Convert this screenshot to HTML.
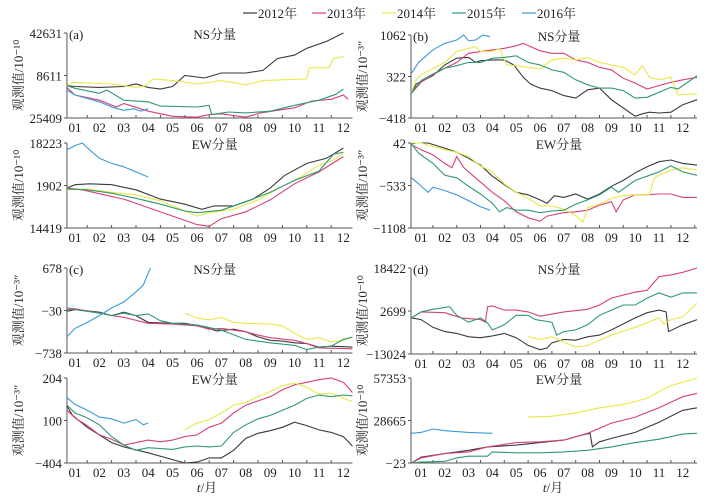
<!DOCTYPE html>
<html><head><meta charset="utf-8"><style>
body{margin:0;background:#fff;}
svg{display:block;font-family:"Liberation Serif","Noto Serif CJK SC",serif;}
</style></head><body>
<svg id="chart" width="712" height="498" viewBox="0 0 712 498" xmlns="http://www.w3.org/2000/svg"></svg>
<script>
// data: [month position t (label k at t=k), percent of axis range]
const years = ["2012年","2013年","2014年","2015年","2016年"];
const colors = ["#3a3a3a","#d6407c","#e8e84c","#2f9a6c","#3b9bd8"];
const months = ["01","02","03","04","05","06","07","08","09","10","11","12"];
const aNSTicks = ["42631","8611","25409"], aEWTicks = ["18223","1902","14419"];
const bNSTicks = ["1062","322","−418"], bEWTicks = ["42","−533","−1108"];
const cNSTicks = ["678","−30","−738"], cEWTicks = ["204","100","−404"];
const dNSTicks = ["18422","2699","−13024"], dEWTicks = ["57353","28665","−23"];

const aNS2012=[[0.65,38],[1,37],[2,36],[3,37],[3.5,40],[4,36],[4.5,34],[5,37],[5.5,50],[6.3,47],[7,53],[8,53],[8.7,56],[9.3,70],[10,74],[10.5,82],[11.3,90],[12,100]];
const aNS2013=[[0.65,36],[1,27],[2,21],[2.7,13],[3,17],[4,8],[5,2],[6,1],[6.5,4],[7,5],[8,1],[8.6,6],[9.3,9],[10,12],[10.7,20],[11.5,22],[12,27],[12.2,22]];
const aNS2014=[[0.65,38],[0.9,42],[2.5,40],[3.5,36],[3.9,38],[4.2,46],[5,44],[6,40],[7,44],[8,39],[8.7,44],[10.5,46],[10.6,59],[11.4,59],[11.6,70],[12,72]];
const aNS2015=[[0.65,38],[1,35],[2,29],[2.3,33],[3,21],[4,19],[4.5,14],[6,13],[6.5,15],[6.6,4],[7.3,7],[8,6],[9,8],[10,15],[11,21],[11.7,28],[12,34]];
const aNS2016=[[0.65,33],[1,27],[2,19],[2.6,12],[3,9],[3.4,11],[3.7,8],[4,11]];

const aEW2012=[[0.65,47],[1,51],[1.6,52],[2.5,51],[3.5,45],[4.5,34],[5.5,28],[6.2,22],[6.7,26],[7.5,26],[8.3,34],[9,47],[9.6,62],[10.5,76],[11.3,82],[12,94]];
const aEW2013=[[0.65,47],[1.3,45],[2.2,39],[3,34],[4,24],[5,14],[6,4],[6.5,2],[7,11],[8,19],[9,33],[10,52],[11,66],[12,84]];
const aEW2014=[[0.65,45],[1.5,46],[2.5,42],[3.5,39],[4.5,32],[5.5,20],[6,14],[6.5,18],[7.5,22],[8.5,33],[9.5,49],[10.3,61],[11,74],[11.5,79],[12,87]];
const aEW2015=[[0.65,46],[1.5,45],[2.5,41],[3.5,35],[4.5,28],[5.5,20],[6,18],[7,21],[8,31],[9,42],[10,56],[11,67],[11.6,87],[12,89]];
const aEW2016=[[0.65,92],[1,97],[1.3,100],[1.6,92],[2,82],[2.5,76],[3,72],[3.5,66],[4,60]];

const bNS2012=[[0.6,30],[0.8,41],[1.5,51],[2,64],[2.5,72],[3,73],[3.3,67],[3.5,69],[4,70],[4.5,70],[4.9,64],[5.3,49],[5.6,41],[6,36],[6.5,33],[7,27],[7.5,24],[8,34],[8.5,36],[9,22],[9.5,12],[10,2],[10.3,5],[10.6,7],[11,6],[11.5,7],[12,16],[12.6,22]];
const bNS2013=[[0.6,30],[1,43],[1.5,52],[2,60],[2.5,67],[3,78],[3.5,80],[4,82],[4.5,84],[5,87],[5.3,90],[5.6,86],[6,81],[6.5,78],[7,78],[7.5,70],[8,67],[8.5,61],[9,58],[9.5,48],[10,42],[10.5,35],[11,39],[11.5,43],[12,46],[12.6,49]];
const bNS2014=[[0.6,31],[0.8,46],[1,52],[2,67],[2.5,80],[3,84],[3.3,86],[3.5,80],[4,80],[4.3,84],[4.6,64],[5,63],[5.5,61],[6,59],[6.5,70],[7,72],[7.5,70],[8,73],[8.5,67],[9,64],[9.5,61],[10,52],[10.3,63],[10.6,49],[11,46],[11.5,49],[11.8,28],[12.6,29]];
const bNS2015=[[0.6,30],[1,45],[1.5,53],[2,60],[2.5,63],[3,67],[3.5,67],[4,72],[4.5,73],[5,75],[5.5,67],[6,64],[6.5,58],[7,55],[7.5,46],[8,40],[8.5,36],[9,36],[9.5,33],[10,24],[10.5,25],[11,31],[11.5,37],[11.8,35],[12.6,51]];
const bNS2016=[[0.6,54],[0.9,67],[1.5,82],[2,90],[2.5,94],[2.8,100],[3,93],[3.3,94],[3.6,100],[3.9,98]];

const bEW2012=[[0.6,99],[0.8,100],[1.3,100],[2,94],[2.5,89],[3,82],[3.5,74],[4,61],[4.5,51],[5,42],[5.5,39],[6,33],[6.3,29],[6.6,38],[7,36],[7.5,40],[8,34],[8.5,40],[9,49],[9.5,56],[10,65],[10.5,72],[11,78],[11.5,80],[12,76],[12.6,74]];
const bEW2013=[[0.6,98],[1,92],[1.5,86],[2,76],[2.3,71],[2.5,84],[2.8,71],[3,66],[3.5,54],[4,42],[4.5,32],[5,19],[5.5,12],[6,8],[6.3,14],[7,18],[7.5,19],[8,21],[8.5,27],[9,31],[9.2,19],[9.5,33],[10,39],[10.5,39],[11,40],[11.5,40],[12,36],[12.6,36]];
const bEW2014=[[0.6,100],[0.8,100],[1,100],[2,92],[2.5,89],[3,84],[3.5,73],[4,66],[4.5,52],[5,42],[5.5,35],[6,26],[6.5,26],[7,22],[7.5,15],[7.8,7],[8,24],[8.5,28],[9,35],[9.5,38],[10,39],[10.6,39],[10.8,59],[11,62],[11.5,68],[12,71],[12.6,68]];
const bEW2015=[[0.6,99],[0.9,88],[1.5,76],[2,62],[2.5,59],[3,49],[3.5,40],[4,29],[4.3,19],[4.6,24],[5,21],[5.5,21],[6,18],[6.5,20],[7,21],[7.5,28],[8,33],[8.5,39],[9,48],[9.3,42],[10,56],[10.5,61],[11,66],[11.5,73],[12,66],[12.6,62]];
const bEW2016=[[0.6,59],[0.9,52],[1.1,47],[1.3,42],[1.5,48],[2,44],[2.5,39],[3,32],[3.5,25],[3.9,21]];

const cNS2012=[[0.65,49],[1,51],[2,48],[2.5,44],[3,48],[3.5,44],[4,36],[5,35],[5.5,35],[6.3,31],[6.8,26],[7.5,28],[8,25],[8.5,19],[9,15],[9.5,14],[10,12],[10.5,11],[11,7],[11.5,8],[12.4,7]];
const cNS2013=[[0.65,53],[1,52],[2,47],[2.5,44],[3,42],[4,35],[5,34],[6,32],[6.5,28],[7,29],[8,25],[8.5,21],[9,18],[10,15],[10.5,11],[11,6],[12.4,5]];
const cNS2014=[[5.5,47],[6,41],[6.5,39],[7,42],[7.5,36],[8,35],[9,34],[9.5,32],[10,23],[10.5,16],[11,18],[11.5,13],[12,15],[12.4,19]];
const cNS2015=[[0.65,51],[1,51],[2,47],[2.5,44],[3,47],[3.5,44],[4,46],[4.5,38],[5,35],[6,33],[7,27],[8,16],[9,12],[10,9],[10.5,4],[11,7],[11.5,8],[12,16],[12.4,19]];
const cNS2016=[[0.65,19],[1,29],[1.5,36],[2,44],[2.5,53],[3,60],[3.5,72],[3.8,80],[4,94],[4.1,100]];

const cEW2012=[[0.65,67],[0.9,56],[1.5,42],[2,33],[2.5,24],[3,19],[4,12],[5,4],[5.5,0],[6,1],[6.5,6],[7,6],[7.5,15],[8,29],[8.5,35],[9,38],[9.5,42],[10,48],[10.5,44],[11,39],[11.5,36],[12,31],[12.4,19]];
const cEW2013=[[0.65,62],[1,53],[1.5,44],[2,33],[2.5,28],[3,21],[3.5,24],[4,27],[4.5,25],[5,27],[5.5,31],[6,33],[6.5,42],[7,47],[7.5,59],[8,68],[8.5,73],[9,78],[9.5,86],[10,92],[10.5,95],[11,98],[11.5,100],[12,95],[12.4,82]];
const cEW2014=[[5.5,39],[6,47],[6.5,51],[7,59],[7.5,68],[8,71],[8.5,78],[9,84],[9.5,91],[10,94],[10.5,89],[11,81],[11.5,82],[12,76],[12.4,72]];
const cEW2015=[[0.65,68],[1,59],[1.5,53],[2,45],[2.5,31],[3,21],[3.5,15],[4,18],[5,16],[5.5,19],[6,20],[6.5,19],[7,20],[7.5,36],[8,45],[8.5,52],[9,56],[9.5,62],[10,68],[10.5,76],[11,80],[11.5,78],[12,80],[12.4,79]];
const cEW2016=[[0.65,77],[1,69],[1.5,62],[2,54],[2.5,52],[3,47],[3.5,51],[3.8,45],[4,47]];

const dNS2012=[[0.6,42],[1,40],[1.5,31],[2,26],[2.5,24],[3,20],[3.5,19],[4,21],[4.5,24],[5,19],[5.5,10],[6,5],[6.3,7],[6.5,13],[7,17],[7.5,16],[8,20],[8.5,22],[9,28],[9.5,35],[10,42],[10.5,48],[11,51],[11.3,49],[11.4,26],[12,34],[12.6,40]];
const dNS2013=[[0.6,42],[1,49],[2,48],[2.7,42],[3.5,40],[3.7,37],[3.8,55],[4,56],[4.5,51],[5,51],[5.5,49],[6,44],[7,49],[8,52],[8.5,57],[9,65],[10,72],[10.5,74],[11,90],[11.5,92],[12,95],[12.6,100]];
const dNS2014=[[5.5,20],[6,17],[6.5,20],[7,14],[7.5,8],[8,10],[8.5,16],[9,22],[10,31],[11,42],[11.2,35],[11.5,40],[12,43],[12.6,59]];
const dNS2015=[[0.6,42],[1,49],[1.5,52],[2.2,55],[2.5,45],[3,37],[3.5,42],[3.8,36],[4,28],[4.5,34],[5,45],[5.5,45],[5.8,40],[6.5,37],[6.7,22],[7,26],[7.5,28],[8,34],[8.5,45],[9,51],[9.5,57],[10,57],[10.5,65],[11,71],[11.5,66],[12,71],[12.6,71]];
const dNS2016=[];

const dEW2012=[[0.6,0],[1,7],[2,11],[3,15],[3.8,19],[5,21],[6,24],[7,27],[7.8,33],[8.1,35],[8.2,19],[8.5,25],[9,29],[10,36],[11,48],[12,62],[12.6,65]];
const dEW2013=[[0.6,0],[1,6],[2,11],[3,13],[3.8,19],[5,24],[6,25],[7,27],[8,35],[9,47],[10,54],[11,65],[12,78],[12.6,82]];
const dEW2014=[[5.5,54],[6.5,55],[7.5,59],[8.5,65],[9.5,69],[10.5,76],[11,84],[11.5,91],[12,95],[12.6,100]];
const dEW2015=[[0.6,0],[1,1],[2,2],[2.5,6],[3,8],[3.8,8],[4,13],[5,12],[6,12],[7,13],[8,15],[9,19],[10,24],[11,28],[12,34],[12.6,35]];
const dEW2016=[[0.6,35],[1,36],[1.5,40],[2,38],[3,36],[4,35]];

const NS="http://www.w3.org/2000/svg";
const svg=document.getElementById('chart');
function mk(tag,attrs,parent){const e=document.createElementNS(NS,tag);for(const k in attrs)e.setAttribute(k,attrs[k]);(parent||svg).appendChild(e);return e;}

const legX=[243,312,382,452,522];
years.forEach((y,i)=>{
  const g=mk('g',{});
  
  
  mk('line',{x1:legX[i],y1:13,x2:legX[i]+14,y2:13,stroke:colors[i],'stroke-width':1.2},g);
  const t=mk('text',{x:legX[i]+15,y:18,'font-size':13,fill:'#222'},g);t.textContent=y;
});

function panel(cfg){
  const {x0,t0,t1,pxPerT,top,bot,ticks,title,label,series,name,ylab,ylabX}=cfg;
  const g=mk('g',{});
  
  
  const xs=t=>x0+pxPerT*Math.max(t,t0), ys=p=>bot-(bot-top)*p/100;
  const L=xs(t0),R=x0+pxPerT*t1;
  const cid='clip-'+name;
  const cp=mk('clipPath',{id:cid},g);mk('rect',{x:L,y:top-3,width:R-L,height:bot-top+6},cp);
  const ax=mk('path',{d:`M${L},${top} V${bot} H${R}`,stroke:'#555',fill:'none','stroke-width':1},g);
  
  for(let m=1;m<=12;m++){ const tx=x0+pxPerT*(m+0.5); if(tx<R-1) mk('line',{x1:tx,y1:bot,x2:tx,y2:bot-3,stroke:'#555'},g); }
  months.forEach((mm,i)=>{const t=mk('text',{x:x0+pxPerT*(i+1),y:bot+14,'font-size':13,'text-anchor':'middle',fill:'#222'},g);t.textContent=mm;
    });
  ticks.forEach((tk,i)=>{const yy=[top,(top+bot)/2,bot][i];
    mk('line',{x1:L,y1:yy,x2:L-3,y2:yy,stroke:'#555'},g);
    const t=mk('text',{x:L-5,y:yy+5,'font-size':13,'text-anchor':'end',fill:'#222'},g);t.textContent=tk;
    });
  const tt=mk('text',{x:(L+R)/2+5,y:top+6,'font-size':13,'text-anchor':'middle',fill:'#222'},g);tt.textContent=title;
  
  if(label){const pl=mk('text',{x:L+2,y:top+6,'font-size':13,fill:'#222'},g);pl.textContent=label;
    }
  const yl=mk('text',{x:ylabX,y:(top+bot)/2,'font-size':13,'text-anchor':'middle',fill:'#222',transform:`rotate(-90 ${ylabX} ${(top+bot)/2})`},g);
  yl.textContent='观测值/'+ylab;
  
  series.forEach((s,i)=>{ if(!s.length) return;
    const d=s.map((p,j)=>(j?'L':'M')+xs(p[0]).toFixed(1)+','+ys(p[1]).toFixed(1)).join(' ');
    const pa=mk('path',{d,stroke:colors[i],fill:'none','stroke-width':1.1,'clip-path':`url(#${cid})`},g);
    
    
  });
}
const Lx=50.6,Lp=24.4,Rx=397.2,Rp=23.8;
const LT0=0.67,LT1=12.37,RT0=0.58,RT1=12.6;
panel({name:'panel-a-ns',x0:Lx,pxPerT:Lp,t0:LT0,t1:LT1,top:33,bot:118,ticks:aNSTicks,title:'NS分量',label:'(a)',series:[aNS2012,aNS2013,aNS2014,aNS2015,aNS2016],ylab:'10⁻¹⁰',ylabX:23});
panel({name:'panel-a-ew',x0:Lx,pxPerT:Lp,t0:LT0,t1:LT1,top:143,bot:228,ticks:aEWTicks,title:'EW分量',series:[aEW2012,aEW2013,aEW2014,aEW2015,aEW2016],ylab:'10⁻¹⁰',ylabX:23});
panel({name:'panel-b-ns',x0:Rx,pxPerT:Rp,t0:RT0,t1:RT1,top:35,bot:118,ticks:bNSTicks,title:'NS分量',label:'(b)',series:[bNS2012,bNS2013,bNS2014,bNS2015,bNS2016],ylab:'10⁻³″',ylabX:367});
panel({name:'panel-b-ew',x0:Rx,pxPerT:Rp,t0:RT0,t1:RT1,top:143,bot:228,ticks:bEWTicks,title:'EW分量',series:[bEW2012,bEW2013,bEW2014,bEW2015,bEW2016],ylab:'10⁻³″',ylabX:367});
panel({name:'panel-c-ns',x0:Lx,pxPerT:Lp,t0:LT0,t1:LT1,top:268,bot:353,ticks:cNSTicks,title:'NS分量',label:'(c)',series:[cNS2012,cNS2013,cNS2014,cNS2015,cNS2016],ylab:'10⁻³″',ylabX:23});
panel({name:'panel-c-ew',x0:Lx,pxPerT:Lp,t0:LT0,t1:LT1,top:378,bot:463,ticks:cEWTicks,title:'EW分量',series:[cEW2012,cEW2013,cEW2014,cEW2015,cEW2016],ylab:'10⁻³″',ylabX:23});
panel({name:'panel-d-ns',x0:Rx,pxPerT:Rp,t0:RT0,t1:RT1,top:268,bot:354,ticks:dNSTicks,title:'NS分量',label:'(d)',series:[dNS2012,dNS2013,dNS2014,dNS2015,dNS2016],ylab:'10⁻¹⁰',ylabX:367});
panel({name:'panel-d-ew',x0:Rx,pxPerT:Rp,t0:RT0,t1:RT1,top:378,bot:463,ticks:dEWTicks,title:'EW分量',series:[dEW2012,dEW2013,dEW2014,dEW2015,dEW2016],ylab:'10⁻¹⁰',ylabX:367});
[[207,'x-axis-title-left'],[553,'x-axis-title-right']].forEach(([x,n])=>{
  const t=mk('text',{x:x,y:492,'font-size':13,'text-anchor':'middle',fill:'#222'});
  
  
  t.innerHTML='<tspan font-style="italic">t</tspan>/月';
});
</script>
</body></html>
